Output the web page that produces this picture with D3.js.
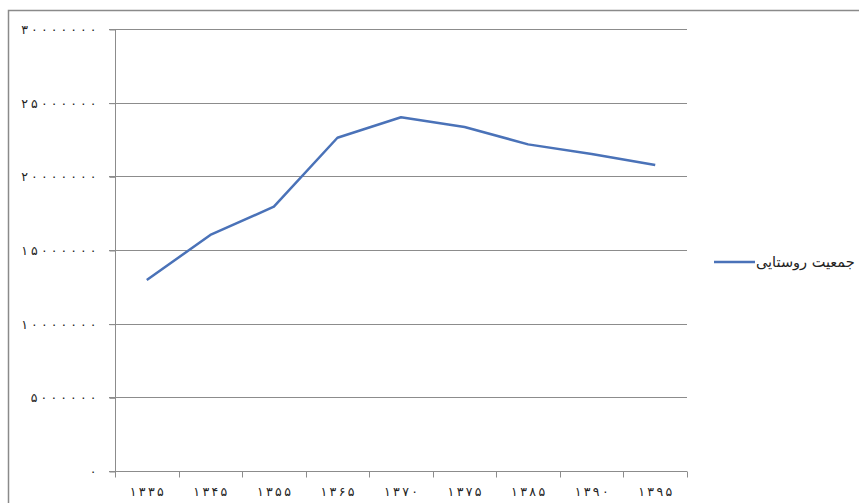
<!DOCTYPE html>
<html>
<head>
<meta charset="utf-8">
<script src="https://cdn.jsdelivr.net/npm/d3@7"></script>
<style>
  html, body { margin: 0; padding: 0; background: #fff; }
  svg { display: block; }
  text { font-family: "DejaVu Sans", "Noto Sans", sans-serif; fill: #222; }
</style>
</head>
<body>
<svg id="chart" width="859" height="503"></svg>
<script>
const years = ["۱۳۳۵", "۱۳۴۵", "۱۳۵۵", "۱۳۶۵", "۱۳۷۰", "۱۳۷۵", "۱۳۸۵", "۱۳۹۰", "۱۳۹۵"];
const ruralPopulation = [12960000, 16020000, 17940000, 22620000, 24010000, 23350000, 22170000, 21520000, 20770000];
const yTicks = [0, 5000000, 10000000, 15000000, 20000000, 25000000, 30000000];
const seriesName = "جمعیت روستایی";

const faDigits = "۰۱۲۳۴۵۶۷۸۹";
const toFa = n => String(n).replace(/[0-9]/g, d => faDigits[+d]);

const svg = d3.select("#chart");
const margin = { left: 115, right: 859 - 687, top: 29, bottom: 503 - 471 };
const W = 859, H = 503;
const x0 = margin.left, x1 = W - margin.right, y0 = H - margin.bottom, y1 = margin.top;

// outer frame
svg.append("rect").attr("x", 8.5).attr("y", 10.5).attr("width", 870).attr("height", 520)
  .attr("fill", "none").attr("stroke", "#8a8a8a").attr("stroke-width", 1.5);

const x = d3.scaleBand().domain(years).range([x0, x1]);
const y = d3.scaleLinear().domain([0, 30000000]).range([y0, y1]);

// gridlines
svg.append("g").selectAll("line").data(yTicks.filter(d => d > 0)).join("line")
  .attr("x1", x0 - 6).attr("x2", x1)
  .attr("y1", d => Math.round(y(d)) + 0.5).attr("y2", d => Math.round(y(d)) + 0.5)
  .attr("stroke", "#8c8c8c").attr("stroke-width", 1);

// y axis
const yAxis = d3.axisLeft(y).tickValues(yTicks).tickSize(6).tickPadding(13).tickFormat(toFa);
const gy = svg.append("g").attr("transform", `translate(${x0 + 0.5},0.5)`).call(yAxis);
gy.select(".domain").attr("stroke", "#8c8c8c").attr("d", `M0,${y1}V${y0}`);
gy.selectAll(".tick line").attr("stroke", "#8c8c8c");
gy.selectAll(".tick text").attr("font-size", 12.5).attr("fill", "#222")
  .attr("font-family", "DejaVu Sans, sans-serif")
  .each(function(d) {
    const s = toFa(d);
    if (s.length > 1) d3.select(this).attr("textLength", s.length * 9.4).attr("lengthAdjust", "spacing");
  });

// x axis
const gx = svg.append("g").attr("transform", `translate(0,${Math.round(y0) + 0.5})`);
gx.append("line").attr("x1", x0 - 6).attr("x2", x1).attr("stroke", "#8c8c8c");
const bounds = years.map(d => x(d)).concat([x1]);
gx.selectAll("line.tk").data(bounds).join("line").attr("class", "tk")
  .attr("x1", d => Math.round(d) + 0.5).attr("x2", d => Math.round(d) + 0.5)
  .attr("y1", 0).attr("y2", 6).attr("stroke", "#8c8c8c");
gx.selectAll("text").data(years).join("text")
  .attr("x", d => x(d) + x.bandwidth() / 2).attr("y", 24)
  .attr("text-anchor", "middle").attr("font-size", 12.5)
  .attr("textLength", 34).attr("lengthAdjust", "spacing").text(d => d);

// line
const line = d3.line().x((d, i) => x(years[i]) + x.bandwidth() / 2).y(d => y(d));
svg.append("path").datum(ruralPopulation).attr("d", line)
  .attr("fill", "none").attr("stroke", "#4a72b8").attr("stroke-width", 2.5)
  .attr("stroke-linejoin", "round");

// legend
const lg = svg.append("g").attr("transform", "translate(714,262)");
lg.append("line").attr("x1", 0).attr("x2", 41).attr("y1", 0).attr("y2", 0)
  .attr("stroke", "#4a72b8").attr("stroke-width", 2.5);
lg.append("text").attr("x", 42).attr("y", 0).attr("dy", "0.35em")
  .attr("font-size", 14.5).text(seriesName);
</script>
</body>
</html>
